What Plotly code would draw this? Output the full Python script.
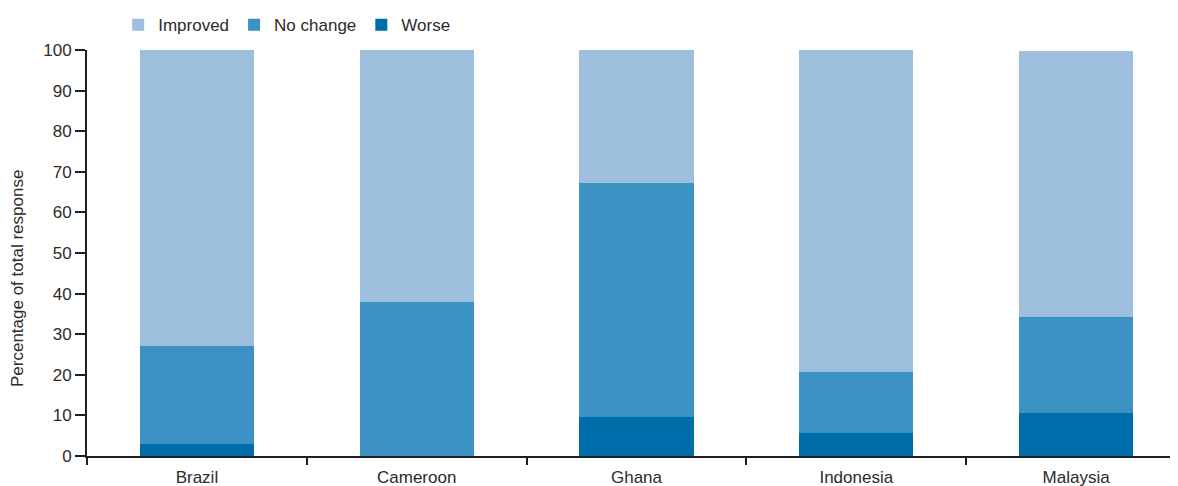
import plotly.graph_objects as go

countries = ["Brazil", "Cameroon", "Ghana", "Indonesia", "Malaysia"]
worse = [3.0, 0.0, 9.6, 5.7, 10.6]
no_change = [24.1, 37.9, 57.6, 15.0, 23.6]
improved = [72.9, 62.1, 32.8, 79.3, 65.6]
y_ticks = [0, 10, 20, 30, 40, 50, 60, 70, 80, 90, 100]
y_title = "Percentage of total response"

C_IMP = "#9dbedc"
C_NC = "#3b92c3"
C_WORSE = "#006dab"
AXIS = "#231f20"
TXT = "#2b2b2b"
FONT = "Liberation Sans"

fig = go.Figure()
fig.add_trace(go.Bar(name="Worse", x=countries, y=worse, marker=dict(color=C_WORSE, line=dict(width=0))))
fig.add_trace(go.Bar(name="No change", x=countries, y=no_change, marker=dict(color=C_NC, line=dict(width=0))))
fig.add_trace(go.Bar(name="Improved", x=countries, y=improved, marker=dict(color=C_IMP, line=dict(width=0))))

fig.update_layout(
    width=1170, height=478,
    barmode="stack", bargap=0.48,
    paper_bgcolor="white", plot_bgcolor="white",
    margin=dict(l=79, r=0, t=42, b=30, autoexpand=False),
    font=dict(family=FONT, size=17, color=TXT),
    showlegend=True,
    legend=dict(
        orientation="h", traceorder="reversed",
        x=0.0286, xanchor="left", y=1.017, yanchor="bottom",
        font=dict(family=FONT, size=17, color=TXT),
        itemwidth=30,
        bgcolor="rgba(0,0,0,0)",
    ),
    xaxis=dict(
        range=[-0.5, 4.4636],
        showline=True, linecolor=AXIS, linewidth=2,
        ticks="outside", tickson="boundaries", ticklen=7, tickwidth=2, tickcolor=AXIS,
        showgrid=False, zeroline=False,
        tickfont=dict(family=FONT, size=17, color=TXT),
        ticklabelstandoff=5,
        automargin=False,
    ),
    yaxis=dict(
        range=[0, 100],
        tickvals=y_ticks,
        showline=True, linecolor=AXIS, linewidth=2,
        ticks="outside", ticklen=10, tickwidth=2, tickcolor=AXIS,
        showgrid=False, zeroline=False,
        tickfont=dict(family=FONT, size=17, color=TXT),
        automargin=False,
    ),
    annotations=[dict(
        text=y_title, textangle=-90,
        xref="paper", yref="paper", x=-0.0632, y=0.436,
        xanchor="center", yanchor="middle", showarrow=False,
        font=dict(family=FONT, size=17, color=TXT),
    )],
)

fig.write_html("out.html")
